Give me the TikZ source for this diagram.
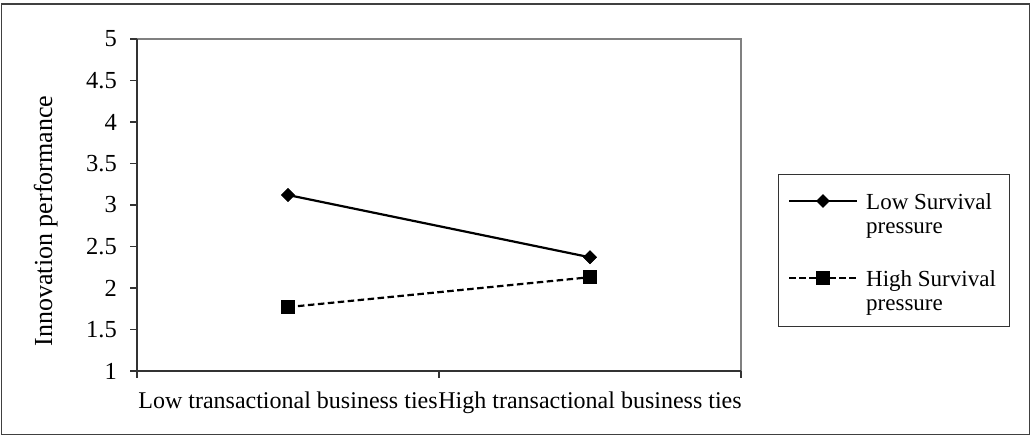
\documentclass[tikz,border=0pt]{standalone}
\usepackage{fontspec}
\setmainfont{Liberation Serif}
\usetikzlibrary{shapes.geometric}
\tikzset{
  frameline/.style={draw=black!75, line width=1.2pt},
  plotborder/.style={draw=black!50, line width=1.5pt},
  axisline/.style={draw=black!80, line width=1.5pt},
  tickline/.style={draw=black!80, line width=1.2pt},
  ticklabel/.style={anchor=east, inner sep=0pt, font=\fontsize{24.5}{27}\selectfont},
  catlabel/.style={anchor=base, inner sep=0pt, font=\fontsize{24}{28}\selectfont},
  ylabel/.style={anchor=base, rotate=90, inner sep=0pt, font=\fontsize{26}{30}\selectfont},
  legtext/.style={anchor=base west, inner sep=0pt, align=left, font=\fontsize{23}{24}\selectfont},
  dmark/.style={diamond, fill=black, draw=none, minimum width=14pt, minimum height=14pt, inner sep=0pt},
  smark/.style={rectangle, fill=black, draw=none, minimum width=14pt, minimum height=14pt, inner sep=0pt},
  solidser/.style={line width=2.2pt, black},
  dashser/.style={line width=2.2pt, black, dash pattern=on 6.5pt off 3.5pt},
}
\begin{document}
\begin{tikzpicture}[x=1pt,y=-1pt]
\useasboundingbox (0,0) rectangle (1034,436);
% chart frame
\draw[frameline] (1.5,4) rectangle (1029.5,434.5);
% plot area border
\draw[plotborder] (137,39) -- (741,39) -- (741,371);
% y ticks and labels
\foreach \v in {1,1.5,2,2.5,3,3.5,4,4.5,5}{
  \pgfmathsetmacro{\yy}{371-83*(\v-1)}
  \draw[tickline] (130,\yy) -- (137,\yy);
  \node[ticklabel] at (117,\yy) {\v};
}
% x ticks
\foreach \xx in {137,439,741}{
  \draw[tickline] (\xx,371) -- (\xx,378);
}
% axes
\draw[axisline] (137,39) -- (137,371) -- (741,371);
% axis labels
\node[catlabel] (cl) at (288,408) {Low transactional business ties};
\node[catlabel] (ch) at (590,408) {High transactional business ties};
\node[ylabel] (yl) at (52,221) {Innovation performance};
% series
\node[dmark] (l1) at (288,195) {};
\node[dmark] (l2) at (590,257.3) {};
\node[smark] (h1) at (288,307.1) {};
\node[smark] (h2) at (590,277.2) {};
\draw[solidser] (l1.center) -- (l2.center);
\draw[dashser] (h1.center) -- (h2.center);
\node[dmark] at (l1) {};
\node[dmark] at (l2) {};
\node[smark] at (h1) {};
\node[smark] at (h2) {};
% legend
\draw[draw=black!80, line width=1pt] (778,174) rectangle (1009,326);
\coordinate (la) at (789,201);
\coordinate (lb) at (857,201);
\coordinate (ha) at (789,278);
\coordinate (hb) at (857,278);
\draw[solidser] (la) -- (lb);
\draw[dashser] (ha) -- (hb);
\node[dmark] (ld) at (823,201) {};
\node[smark] (hd) at (823,278) {};
\node[legtext] (lt) at (866,233) {Low Survival\\pressure};
\node[legtext] (ht) at (866,310) {High Survival\\pressure};
\end{tikzpicture}
\end{document}
